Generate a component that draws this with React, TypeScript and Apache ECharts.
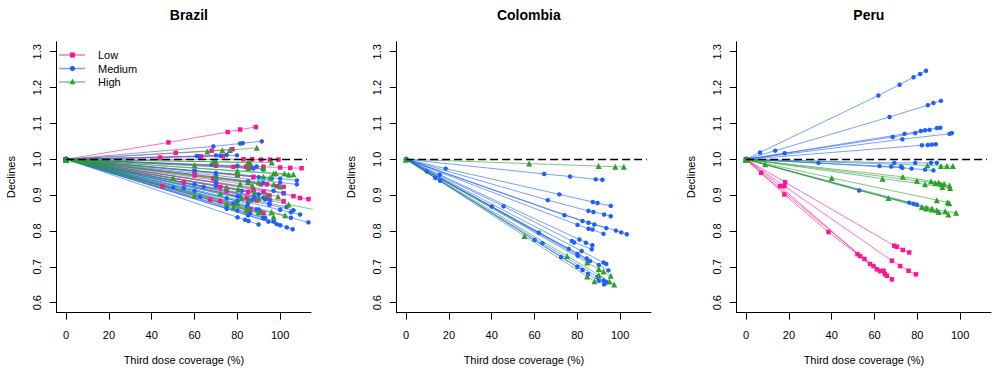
import React, { useEffect, useRef } from 'react';
import * as echarts from 'echarts';

const COUNTRIES = ['Brazil', 'Colombia', 'Peru'];
const GROUPS = ['Low', 'Medium', 'High'];
const GROUP_COLORS = ['#FF1493', '#1F5FFF', '#2CA02C'];
const GROUP_SYMBOLS = ['rect', 'circle', 'triangle'];
const GROUP_SYMBOL_SIZES = [4.5, 4.5, 6];
const X_TICKS = [0, 20, 40, 60, 80, 100];
const Y_TICKS = [0.6, 0.7, 0.8, 0.9, 1.0, 1.1, 1.2, 1.3];
const X_RANGE = [-4.4, 114.4];
const Y_RANGE = [0.572, 1.328];
const ORIGIN: [number, number] = [0, 1];
const REF_Y = 1;
const REF_X = [0, 112.5];

// Brazil
const brazilLow: number[][][] = [
  [[47.8, 1.047], [75.5, 1.076], [81.3, 1.083], [88.6, 1.09]],
  [[51.2, 1.018], [68.0, 1.024], [77.7, 1.028]],
  [[43.9, 1.005], [63.1, 1.008], [73.2, 1.009]],
  [[82.9, 1.0], [86.9, 1.0], [91.1, 0.999], [95.3, 0.999], [99.2, 0.999]],
  [[84.1, 0.979], [92.2, 0.979], [100.0, 0.977], [104.7, 0.976], [110.0, 0.975]],
  [[101.6, 0.905], [106.2, 0.897], [109.3, 0.892], [113.2, 0.889]],
  [[68.8, 0.946], [85.0, 0.935], [91.0, 0.93]],
  [[45.0, 0.925], [67.3, 0.887], [85.7, 0.858], [92.2, 0.849]],
  [[60.0, 0.955], [93.8, 0.93], [98.4, 0.925], [101.6, 0.923]],
  [[70.0, 0.934], [87.5, 0.915], [92.2, 0.909]],
  [[55.0, 0.935], [84.4, 0.891], [89.1, 0.885]],
  [[75.0, 0.912], [93.8, 0.89], [101.6, 0.883]],
  [[72.0, 0.883], [86.0, 0.861], [90.7, 0.853]],
  [[70.0, 0.982], [78.2, 0.979], [86.0, 0.977]],
  [[60.0, 0.966], [80.0, 0.955], [87.5, 0.951]],
  [[72.0, 0.923], [85.0, 0.909], [95.0, 0.899]],
];
const brazilMedium: number[][][] = [
  [[68.8, 1.036], [81.3, 1.044], [82.5, 1.045], [91.4, 1.05]],
  [[62.0, 1.008], [72.0, 1.01], [79.8, 1.011]],
  [[61.0, 1.009], [70.0, 1.011], [75.0, 1.012]],
  [[68.0, 0.985], [80.0, 0.982], [89.0, 0.98]],
  [[70.0, 0.962], [90.0, 0.95], [96.0, 0.946]],
  [[60.0, 0.968], [100.0, 0.946], [107.8, 0.941]],
  [[70.0, 0.955], [100.0, 0.935], [107.8, 0.93]],
  [[80.1, 0.838], [83.6, 0.831], [85.2, 0.828], [89.9, 0.818]],
  [[75.0, 0.862], [94.5, 0.826], [98.4, 0.819]],
  [[85.0, 0.844], [100.0, 0.816], [103.1, 0.81], [105.8, 0.805]],
  [[90.0, 0.86], [105.0, 0.837], [113.2, 0.824]],
  [[85.0, 0.88], [100.0, 0.859], [105.0, 0.852], [109.3, 0.846]],
  [[60.0, 0.93], [92.2, 0.893], [95.3, 0.886]],
  [[50.0, 0.921], [78.2, 0.877], [84.4, 0.868], [89.1, 0.86]],
  [[81.3, 0.895], [87.0, 0.887]],
  [[70.0, 0.936], [96.9, 0.912], [101.6, 0.906]],
  [[62.6, 0.895], [85.0, 0.857], [90.0, 0.849]],
  [[64.2, 0.923], [88.0, 0.894], [93.0, 0.888]],
  [[80.0, 0.857], [92.0, 0.836], [97.0, 0.827]],
  [[75.0, 0.868], [86.0, 0.849], [93.0, 0.836]],
  [[80.0, 0.897], [95.0, 0.877], [103.0, 0.867]],
  [[95.0, 0.873], [106.2, 0.858]],
  [[70.0, 0.95], [85.0, 0.939], [92.0, 0.934]],
  [[70.0, 0.925], [82.0, 0.912], [90.0, 0.902]],
  [[87.5, 0.974], [92.0, 0.972]],
  [[60.0, 0.912], [80.0, 0.883], [85.0, 0.876]],
  [[55.0, 0.92], [75.0, 0.891], [80.0, 0.884]],
];
const brazilHigh: number[][][] = [
  [[66.0, 1.022], [73.0, 1.025], [76.5, 1.026], [89.1, 1.032]],
  [[70.0, 0.993], [85.0, 0.992], [96.1, 0.991]],
  [[80.0, 0.968], [98.0, 0.961], [102.0, 0.96], [106.2, 0.958]],
  [[68.8, 0.993], [86.0, 0.99]],
  [[80.0, 0.958], [92.2, 0.951], [95.3, 0.949]],
  [[70.0, 0.95], [90.0, 0.935], [97.0, 0.93]],
  [[75.0, 0.922], [93.8, 0.902], [99.0, 0.896]],
  [[50.0, 0.948], [80.4, 0.917], [88.0, 0.909]],
  [[90.0, 0.891], [104.0, 0.874], [118.0, 0.857]],
  [[80.0, 0.878], [96.0, 0.853], [102.3, 0.844]],
  [[75.0, 0.876], [90.0, 0.852], [96.9, 0.84]],
  [[85.0, 0.863], [90.7, 0.853]],
  [[60.0, 0.898], [78.2, 0.867], [84.0, 0.857]],
  [[81.3, 0.932], [87.0, 0.927]],
  [[60.0, 0.983], [85.0, 0.976], [92.2, 0.974]],
  [[96.9, 0.96], [104.0, 0.957]],
  [[85.0, 0.936], [100.0, 0.924]],
  [[72.0, 0.905], [82.0, 0.892], [86.0, 0.887]],
];

// Colombia
const colombiaLow: number[][][] = [];
const colombiaMedium: number[][][] = [
  [[64.5, 0.959], [76.6, 0.952], [88.6, 0.944], [91.7, 0.943]],
  [[18.5, 0.974], [71.6, 0.902], [87.2, 0.881], [89.4, 0.878], [95.6, 0.87]],
  [[66.2, 0.886], [85.2, 0.856], [87.5, 0.853], [92.5, 0.846], [95.6, 0.841]],
  [[74.0, 0.844], [85.2, 0.823], [87.9, 0.818], [93.5, 0.808]],
  [[82.4, 0.828], [98.0, 0.801], [100.5, 0.796], [103.1, 0.791]],
  [[80.1, 0.817], [85.2, 0.806], [87.1, 0.804], [92.2, 0.792]],
  [[45.5, 0.869], [77.4, 0.772], [78.5, 0.768], [86.7, 0.749]],
  [[15.7, 0.957], [81.0, 0.776], [84.0, 0.767], [87.0, 0.76]],
  [[40.0, 0.868], [80.0, 0.736], [86.0, 0.716]],
  [[82.0, 0.744], [92.2, 0.712], [93.5, 0.708]],
  [[84.4, 0.723], [90.0, 0.705], [94.5, 0.69]],
  [[13.6, 0.948], [63.7, 0.766], [89.4, 0.672], [92.2, 0.662], [93.5, 0.657]],
  [[15.9, 0.94], [72.4, 0.727], [85.0, 0.68], [90.0, 0.661], [92.5, 0.651]],
  [[80.2, 0.731], [85.0, 0.715]],
  [[60.0, 0.775], [80.0, 0.7], [82.4, 0.691]],
  [[9.7, 0.966], [62.0, 0.795], [76.0, 0.75]],
];
const colombiaHigh: number[][][] = [
  [[57.5, 0.988], [89.9, 0.981], [97.7, 0.979], [101.7, 0.979]],
  [[75.2, 0.73], [90.0, 0.677], [95.0, 0.659], [97.2, 0.651]],
  [[84.6, 0.712], [90.0, 0.694], [92.2, 0.687], [95.6, 0.675]],
  [[55.3, 0.786], [84.6, 0.673], [88.0, 0.66]],
];

// Peru
const peruLow: number[][][] = [
  [[17.9, 0.925], [68.1, 0.717], [72.0, 0.702], [75.9, 0.689], [79.3, 0.679]],
  [[18.2, 0.936], [69.2, 0.759], [70.4, 0.756], [73.2, 0.747], [76.2, 0.74]],
  [[17.9, 0.902], [38.5, 0.797], [52.0, 0.735], [57.9, 0.708], [62.6, 0.688], [65.7, 0.675]],
  [[15.9, 0.925], [53.3, 0.73], [59.5, 0.702], [64.2, 0.689], [68.1, 0.665]],
  [[7.0, 0.962], [55.3, 0.722], [61.1, 0.693], [64.8, 0.68]],
];
const peruMedium: number[][][] = [
  [[6.5, 1.019], [61.8, 1.178], [71.7, 1.208], [78.2, 1.229], [81.3, 1.238], [84.0, 1.247]],
  [[13.6, 1.024], [67.0, 1.118], [84.9, 1.151], [87.5, 1.157], [91.0, 1.163]],
  [[68.5, 1.062], [79.0, 1.073], [83.6, 1.081], [89.1, 1.087], [90.7, 1.088]],
  [[18.0, 1.017], [74.0, 1.071], [81.6, 1.079], [85.7, 1.082]],
  [[73.0, 1.056], [95.0, 1.071], [96.1, 1.073]],
  [[82.1, 1.039], [84.9, 1.04], [86.8, 1.041], [88.6, 1.042]],
  [[69.2, 0.99], [79.0, 0.99], [86.4, 0.99], [89.1, 0.99]],
  [[33.8, 0.99], [62.3, 0.981], [67.8, 0.98], [72.4, 0.979]],
  [[73.0, 0.976], [77.3, 0.974], [83.6, 0.971], [87.5, 0.969]],
  [[52.8, 0.913], [76.2, 0.879], [78.2, 0.876], [79.8, 0.873]],
];
const peruHigh: number[][][] = [
  [[84.7, 0.983], [91.0, 0.981], [93.8, 0.981], [96.6, 0.981]],
  [[73.2, 0.951], [86.4, 0.939], [89.9, 0.935], [92.5, 0.932]],
  [[63.7, 0.946], [83.6, 0.93], [91.7, 0.923], [95.3, 0.92]],
  [[79.8, 0.94], [88.3, 0.934], [91.0, 0.93], [95.0, 0.927]],
  [[40.0, 0.948], [89.1, 0.886], [94.1, 0.88], [94.9, 0.877]],
  [[66.5, 0.892], [82.1, 0.867], [84.4, 0.865], [86.8, 0.86]],
  [[8.9, 0.986], [86.8, 0.863], [89.1, 0.858], [93.0, 0.855], [98.1, 0.851]],
  [[84.0, 0.863], [90.0, 0.853], [94.5, 0.846]],
];

const COUNTRY_DATA = [
  [brazilLow, brazilMedium, brazilHigh],
  [colombiaLow, colombiaMedium, colombiaHigh],
  [peruLow, peruMedium, peruHigh],
];

const FONT = 'Liberation Sans, Arial, Helvetica, sans-serif';
const GRID_LEFTS = [56.7, 396.7, 736.7];
const GRID_TOP = 41.7;
const GRID_W = 254.3;
const GRID_H = 271;

function buildOption() {
  const grids = GRID_LEFTS.map((l) => ({ left: l, top: GRID_TOP, width: GRID_W, height: GRID_H }));
  const xAxes = GRID_LEFTS.map((_, i) => ({
    type: 'value',
    gridIndex: i,
    min: X_RANGE[0],
    max: X_RANGE[1],
    name: 'Third dose coverage (%)',
    nameLocation: 'middle',
    nameGap: 42,
    nameTextStyle: { fontSize: 11, color: '#000', fontFamily: FONT },
    splitLine: { show: false },
    axisLine: { show: true, onZero: false, lineStyle: { color: '#000', width: 1 } },
    axisTick: { show: true, length: 7, customValues: X_TICKS, lineStyle: { color: '#000' } },
    axisLabel: { customValues: X_TICKS, fontSize: 11, color: '#000', fontFamily: FONT, margin: 17 },
  }));
  const yAxes = GRID_LEFTS.map((_, i) => ({
    type: 'value',
    gridIndex: i,
    min: Y_RANGE[0],
    max: Y_RANGE[1],
    name: 'Declines',
    nameLocation: 'middle',
    nameGap: 40,
    nameTextStyle: { fontSize: 11, color: '#000', fontFamily: FONT },
    splitLine: { show: false },
    axisLine: { show: true, onZero: false, lineStyle: { color: '#000', width: 1 } },
    axisTick: { show: true, length: 7, customValues: Y_TICKS, lineStyle: { color: '#000' } },
    axisLabel: {
      customValues: Y_TICKS,
      rotate: 90,
      fontSize: 11,
      color: '#000',
      fontFamily: FONT,
      margin: 14,
      formatter: (v: number) => v.toFixed(1),
    },
  }));

  const series: any[] = [];
  COUNTRY_DATA.forEach((groups, ci) => {
    groups.forEach((lines, gi) => {
      lines.forEach((pts) => {
        series.push({
          type: 'line',
          name: GROUPS[gi],
          xAxisIndex: ci,
          yAxisIndex: ci,
          data: [ORIGIN, ...pts],
          symbol: GROUP_SYMBOLS[gi],
          symbolSize: GROUP_SYMBOL_SIZES[gi],
          showSymbol: true,
          showAllSymbol: true,
          silent: true,
          clip: true,
          lineStyle: { color: GROUP_COLORS[gi], width: 1, opacity: 0.6 },
          itemStyle: { color: GROUP_COLORS[gi] },
          z: 2,
        });
      });
    });
    series.push({
      type: 'line',
      xAxisIndex: ci,
      yAxisIndex: ci,
      data: [],
      silent: true,
      z: 5,
      markLine: {
        silent: true,
        symbol: ['none', 'none'],
        label: { show: false },
        lineStyle: { color: '#000', type: [8, 4], width: 1.3 },
        data: [[{ coord: [REF_X[0], REF_Y] }, { coord: [REF_X[1], REF_Y] }]],
      },
    });
  });

  const legendChildren: any[] = [];
  GROUPS.forEach((g, k) => {
    const y = 55 + k * 13.5;
    const c = GROUP_COLORS[k];
    legendChildren.push({
      type: 'line',
      shape: { x1: 59, y1: y, x2: 85, y2: y },
      style: { stroke: c, lineWidth: 1.5, opacity: 0.6 },
    });
    if (k === 0) {
      legendChildren.push({ type: 'rect', shape: { x: 70, y: y - 2.5, width: 5, height: 5 }, style: { fill: c } });
    } else if (k === 1) {
      legendChildren.push({ type: 'circle', shape: { cx: 72.5, cy: y, r: 2.6 }, style: { fill: c } });
    } else {
      legendChildren.push({
        type: 'polygon',
        shape: { points: [[72.5, y - 3.2], [75.5, y + 2.2], [69.5, y + 2.2]] },
        style: { fill: c },
      });
    }
    legendChildren.push({
      type: 'text',
      x: 98,
      y,
      style: { text: g, fontSize: 11, fill: '#000', fontFamily: FONT, verticalAlign: 'middle', align: 'left' },
    });
  });

  return {
    animation: false,
    backgroundColor: '#fff',
    title: COUNTRIES.map((c, i) => ({
      text: c,
      left: GRID_LEFTS[i] + GRID_W / 2,
      top: 3,
      textAlign: 'center',
      textStyle: { fontSize: 14, fontWeight: 'bold', color: '#000', fontFamily: FONT },
    })),
    grid: grids,
    xAxis: xAxes,
    yAxis: yAxes,
    series,
    graphic: [{ type: 'group', children: legendChildren, z: 100 }],
  };
}

export default function App() {
  const ref = useRef<HTMLDivElement>(null);
  useEffect(() => {
    if (!ref.current) return;
    const chart = echarts.init(ref.current, undefined, { renderer: 'svg' });
    chart.setOption(buildOption() as any);
    return () => chart.dispose();
  }, []);
  return (
    <div
      ref={ref}
      style={{ position: 'absolute', left: 0, top: 0, width: 1000, height: 374, background: '#fff' }}
    />
  );
}
